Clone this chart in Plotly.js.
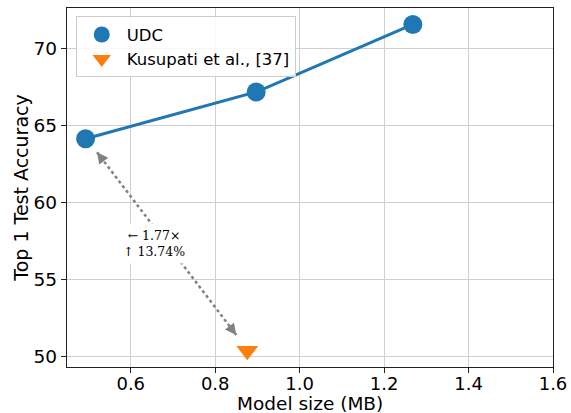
<!DOCTYPE html>
<html>
<head>
<meta charset="utf-8">
<script src="https://cdn.plot.ly/plotly-3.0.1.min.js"></script>
<style>html,body{margin:0;padding:0;background:#fff;}#chart{width:571px;height:413px;}</style>
</head>
<body>
<div id="chart"></div>
<script>
// Data
const udcSize = [0.493, 0.897, 1.268];
const udcAcc = [64.13, 67.17, 71.56];
const kusSize = [0.876];
const kusAcc = [50.36];
const seriesNames = ["UDC", "Kusupati et al., [37]"];
const xTitle = "Model size (MB)";
const yTitle = "Top 1 Test Accuracy";
// comparison arrow endpoints (data coords) and label
const arrowX = [0.52, 0.85];
const arrowY = [63.26, 51.38];
const arrowLabel = "← 1.77×<br>↑ 13.74%";
const labelPos = [0.656, 57.32];

const blue = "#1f77b4", orange = "#ff7f0e", gray = "#808080";

const traces = [
  {x: udcSize, y: udcAcc, mode: "lines", line: {color: blue, width: 3}, showlegend: false, hoverinfo: "skip"},
  {x: udcSize, y: udcAcc, mode: "markers", name: seriesNames[0], marker: {color: blue, size: 19, symbol: "circle"}},
  {x: kusSize, y: kusAcc, mode: "markers", name: seriesNames[1], marker: {color: orange, size: 19, symbol: "triangle-down"}},
  {x: arrowX, y: arrowY, mode: "lines", line: {color: gray, width: 2.5, dash: "dot"}, showlegend: false, hoverinfo: "skip"}
];

function frac(a, b, t) { return a + (b - a) * t; }
const annotations = [
  {x: arrowX[0], y: arrowY[0], ax: frac(arrowX[0], arrowX[1], 0.04), ay: frac(arrowY[0], arrowY[1], 0.04),
   xref: "x", yref: "y", axref: "x", ayref: "y", text: "", showarrow: true,
   arrowhead: 2, arrowsize: 1.5, arrowwidth: 1.5, arrowcolor: gray},
  {x: arrowX[1], y: arrowY[1], ax: frac(arrowX[1], arrowX[0], 0.04), ay: frac(arrowY[1], arrowY[0], 0.04),
   xref: "x", yref: "y", axref: "x", ayref: "y", text: "", showarrow: true,
   arrowhead: 2, arrowsize: 1.5, arrowwidth: 1.5, arrowcolor: gray},
  {x: labelPos[0], y: labelPos[1], xref: "x", yref: "y", text: arrowLabel, showarrow: false,
   bgcolor: "#ffffff", borderpad: 4, align: "center",
   font: {family: "DejaVu Serif", size: 12.5, color: "#000"}},
  {x: 0.5, y: -0.102, xref: "paper", yref: "paper", xanchor: "center", yanchor: "middle",
   text: xTitle, showarrow: false, borderpad: 0,
   font: {family: "DejaVu Sans", size: 18.5, color: "#000"}}
];

const axisCommon = {
  showline: true, mirror: true, linecolor: "#222", linewidth: 1.2,
  ticks: "outside", ticklen: 5, tickwidth: 1, tickcolor: "#222",
  showgrid: true, gridcolor: "#cfcfcf", gridwidth: 1, zeroline: false,
  tickfont: {family: "DejaVu Sans", size: 18.5, color: "#000"}
};

const layout = {
  width: 571, height: 413,
  margin: {l: 67, r: 18, t: 8, b: 46},
  paper_bgcolor: "#fff", plot_bgcolor: "#fff",
  font: {family: "DejaVu Sans", color: "#000"},
  xaxis: Object.assign({}, axisCommon, {
    range: [0.449, 1.6], tickvals: [0.6, 0.8, 1.0, 1.2, 1.4, 1.6], ticktext: ["0.6","0.8","1.0","1.2","1.4","1.6"],
    ticklabelstandoff: -5, tickfont: {family: "DejaVu Sans", size: 18, color: "#000"}
  }),
  yaxis: Object.assign({}, axisCommon, {
    range: [49.30, 72.63], tickvals: [50, 55, 60, 65, 70],
    title: {text: yTitle, font: {family: "DejaVu Sans", size: 19, color: "#000"}, standoff: 0}
  }),
  legend: {
    x: 0.018, y: 0.977, xanchor: "left", yanchor: "top",
    bgcolor: "rgba(255,255,255,0.85)", bordercolor: "#cccccc", borderwidth: 1,
    font: {family: "DejaVu Sans", size: 16.5, color: "#000"},
    itemwidth: 40, tracegroupgap: 0
  },
  annotations: annotations,
  showlegend: true
};

Plotly.newPlot("chart", traces, layout, {displayModeBar: false, staticPlot: true});
</script>
</body>
</html>
